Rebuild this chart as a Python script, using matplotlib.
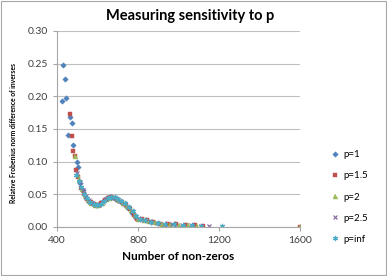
import numpy as np
import matplotlib
matplotlib.use('Agg')
import matplotlib.pyplot as plt
from matplotlib.patches import Rectangle

plt.rcParams['font.family'] = ['Lato', 'DejaVu Sans']

# p = 1
x_p1 = [423, 431, 440, 442, 453, 462, 472, 481, 497, 505, 515, 528, 545, 560, 578, 595, 612, 630,
        648, 665, 680, 698, 715, 735, 752, 772, 790, 812, 838, 865, 900, 940, 985, 1030, 1075, 1600]
y_p1 = [.193, .248, .227, .197, .141, .169, .159, .126, .100, .092, .068, .056, .045, .039, .035, .034, .036, .041,
        .045, .046, .045, .042, .039, .034, .029, .022, .014, .012, .010, .008, .006, .004, .004, .003, .003, 0.0]

# p = 1.5
x_p15 = [462, 476, 481, 489, 494, 503, 518, 533, 550, 566, 583, 600, 618, 636, 652, 668, 686, 703,
         722, 742, 760, 778, 795, 820, 845, 875, 910, 950, 990, 1035, 1080, 1120, 1600]
y_p15 = [.173, .140, .116, .108, .088, .076, .060, .051, .043, .038, .035, .034, .036, .042, .045, .046, .044, .041,
         .038, .033, .027, .019, .013, .012, .010, .007, .005, .004, .004, .003, .003, .002, 0.0]

# p = 2
x_p2 = [489, 497, 507, 522, 537, 553, 570, 587, 604, 622, 640, 656, 673, 690, 708, 727, 746, 765,
        783, 802, 828, 855, 885, 920, 960, 1000, 1045, 1090, 1600]
y_p2 = [.108, .081, .073, .058, .049, .042, .037, .034, .034, .037, .043, .045, .046, .044, .041, .037, .032, .026,
        .019, .013, .011, .009, .007, .005, .004, .003, .003, .002, 0.0]

# p = 2.5
x_p25 = [500, 512, 526, 541, 556, 574, 591, 608, 626, 644, 661, 678, 695, 713, 732, 750, 768, 786,
         806, 832, 860, 893, 930, 970, 1015, 1060, 1110, 1150]
y_p25 = [.083, .069, .056, .047, .041, .036, .034, .034, .038, .043, .046, .045, .043, .040, .036, .031, .025, .017,
         .013, .011, .009, .006, .005, .004, .003, .003, .002, .002]

# p = inf
x_pinf = [496, 508, 520, 535, 549, 565, 582, 598, 615, 633, 650, 667, 684, 700, 718, 737, 755, 773,
          790, 810, 836, 866, 898, 935, 978, 1022, 1065, 1110, 1215]
y_pinf = [.079, .071, .061, .051, .044, .039, .035, .034, .035, .040, .044, .046, .046, .043, .040, .036, .031, .024,
          .017, .013, .011, .008, .006, .005, .004, .003, .003, .002, .002]

series = [
    ('p=1', x_p1, y_p1, 'D', '#4F81BD', 2.8),
    ('p=1.5', x_p15, y_p15, 's', '#C0504D', 3.4),
    ('p=2', x_p2, y_p2, '^', '#9BBB59', 3.6),
    ('p=2.5', x_p25, y_p25, 'x', '#8064A2', 3.4),
    ('p=inf', x_pinf, y_pinf, (6, 2, 0), '#4BACC6', 3.8),
]

fig = plt.figure(figsize=(3.87, 2.76), dpi=100)
ax = fig.add_axes([57/387, 1-227/276, (300-57)/387, (227-31)/276])

for label, xs, ys, m, c, ms in series:
    ax.plot(xs, ys, linestyle='none', marker=m, color=c, markersize=ms,
            markeredgewidth=0.8 if m in ('x', (6, 2, 0)) else 0.3, label=label)

ax.set_xlim(400, 1600)
ax.set_ylim(0, 0.30)
ax.set_xticks([400, 800, 1200, 1600])
ax.set_yticks(np.arange(0, 0.31, 0.05))
ax.yaxis.set_major_formatter(plt.FuncFormatter(lambda v, _: f'{v:.2f}'))
ax.grid(axis='y', color='#BFBFBF', linewidth=0.8)
ax.set_axisbelow(True)
for s in ['top', 'right']:
    ax.spines[s].set_visible(False)
for s in ['left', 'bottom']:
    ax.spines[s].set_color('#A6A6A6')
    ax.spines[s].set_linewidth(0.8)
ax.tick_params(axis='both', colors='#A6A6A6', labelcolor='#404040', labelsize=7.5, length=3, width=0.8)

ax.set_xlabel('Number of non-zeros', fontsize=8.5, fontweight='bold', labelpad=4)
fig.text(14/387, 1-133/276, 'Relative Frobenius norm difference of inverses',
         rotation=90, fontsize=4.9, fontweight='bold', ha='center', va='center')
fig.text(0.49, 1-16/276, 'Measuring sensitivity to p', fontsize=10.5, fontweight='bold',
         ha='center', va='center')

fig.legend(loc='center left', bbox_to_anchor=(325/387, 1-197/276), frameon=False,
           fontsize=7, labelspacing=1.25, handlelength=1, handletextpad=0.4, borderpad=0)

fig.add_artist(Rectangle((0.002, 0.003), 0.995, 0.994, transform=fig.transFigure,
                         fill=False, edgecolor='#A6A6A6', linewidth=0.8))

fig.savefig('out.png', dpi=100)
